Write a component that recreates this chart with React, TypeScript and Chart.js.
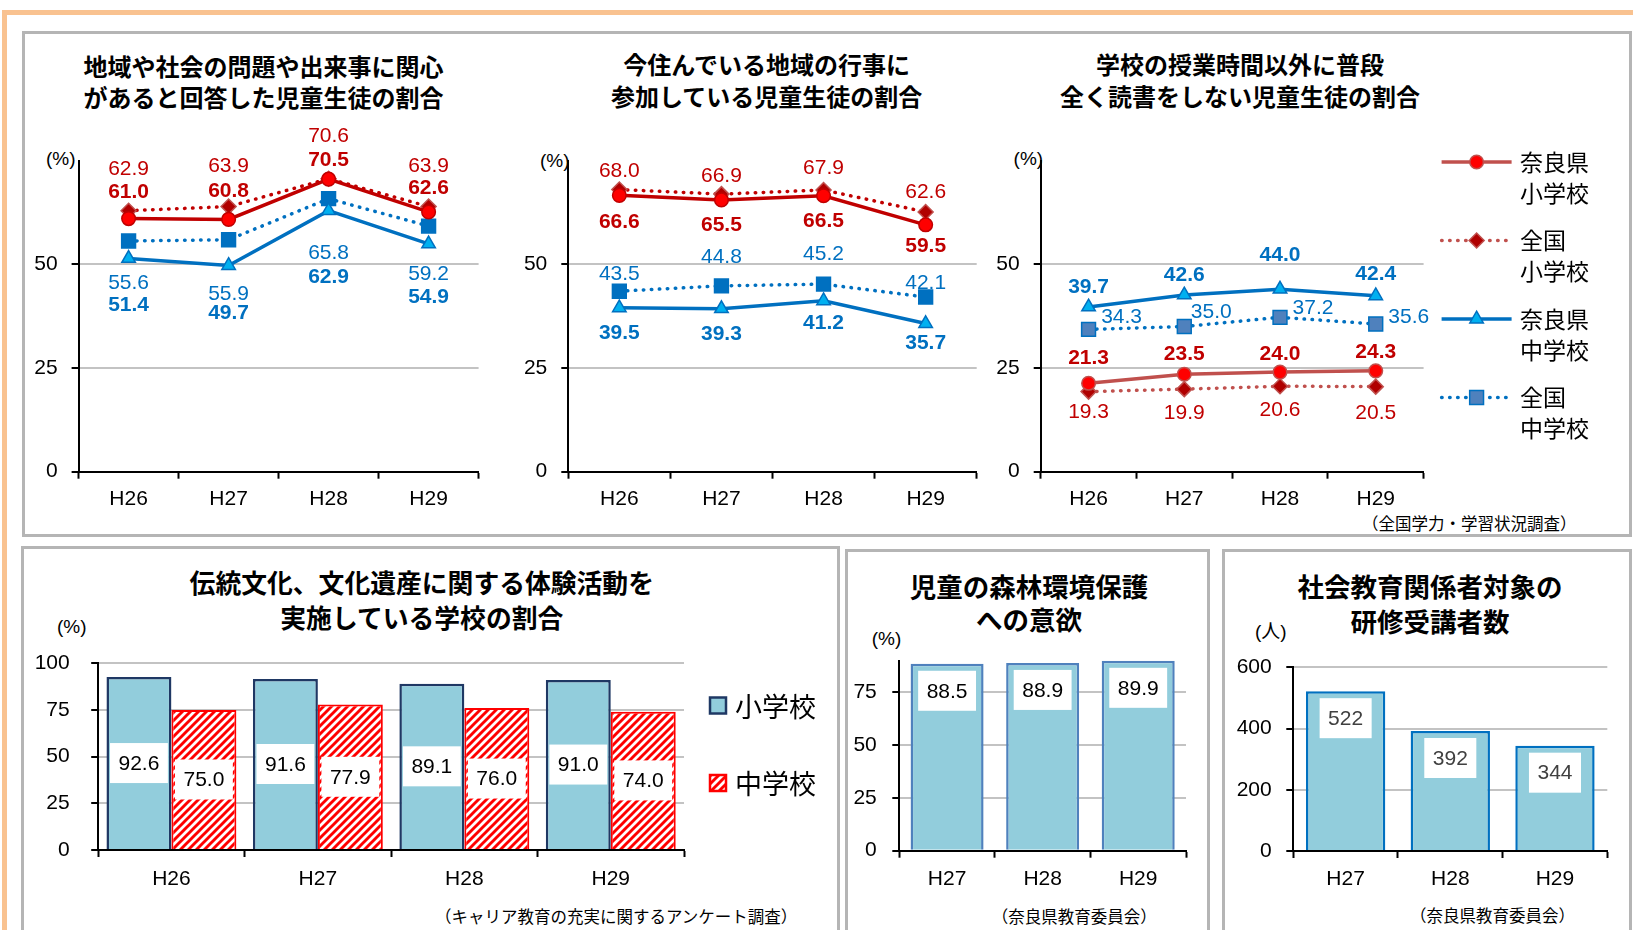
import { useEffect, useRef } from 'react';
import { Chart, registerables } from 'chart.js';

Chart.register(...registerables);

const NUM_FONT = '"Liberation Sans", Arial, sans-serif';
const JP_FONT = '"Noto Sans CJK JP", "Noto Sans", sans-serif';
const NUM_SIZE = 21;

// ---- categories ----
const YEARS4 = ['H26', 'H27', 'H28', 'H29'];
const YEARS3 = ['H27', 'H28', 'H29'];
const SERIES = ['奈良県小学校', '全国小学校', '奈良県中学校', '全国中学校'];
const LEGEND_LINES = [
  ['奈良県', '小学校'],
  ['全国', '小学校'],
  ['奈良県', '中学校'],
  ['全国', '中学校'],
];
const SCHOOL_LEVELS = ['小学校', '中学校'];

// ---- 地域や社会の問題や出来事に関心があると回答した児童生徒の割合 (%) ----
const interestNaraElem = [61.0, 60.8, 70.5, 62.6];
const interestNationElem = [62.9, 63.9, 70.6, 63.9];
const interestNaraJunior = [51.4, 49.7, 62.9, 54.9];
const interestNationJunior = [55.6, 55.9, 65.8, 59.2];

// ---- 今住んでいる地域の行事に参加している児童生徒の割合 (%) ----
const eventNaraElem = [66.6, 65.5, 66.5, 59.5];
const eventNationElem = [68.0, 66.9, 67.9, 62.6];
const eventNaraJunior = [39.5, 39.3, 41.2, 35.7];
const eventNationJunior = [43.5, 44.8, 45.2, 42.1];

// ---- 学校の授業時間以外に普段全く読書をしない児童生徒の割合 (%) ----
const noReadNaraElem = [21.3, 23.5, 24.0, 24.3];
const noReadNationElem = [19.3, 19.9, 20.6, 20.5];
const noReadNaraJunior = [39.7, 42.6, 44.0, 42.4];
const noReadNationJunior = [34.3, 35.0, 37.2, 35.6];

// ---- 伝統文化、文化遺産に関する体験活動を実施している学校の割合 (%) ----
const traditionElem = [92.6, 91.6, 89.1, 91.0];
const traditionJunior = [75.0, 77.9, 76.0, 74.0];

// ---- 児童の森林環境保護への意欲 (%) ----
const forestWill = [88.5, 88.9, 89.9];

// ---- 社会教育関係者対象の研修受講者数 (人) ----
const trainees = [522, 392, 344];

// ---- value-label placement (pixel offsets from each point) ----
const INTEREST_LABEL_OFFSETS = [
  { dy: [-26, -28, -19, -23.5] },
  { dy: [-42, -40, -42.6, -40.7] },
  { dy: [47, 48, 66, 53] },
  { dy: [42, 54, 55, 48] },
];
const EVENT_LABEL_OFFSETS = [
  { dy: [26.7, 25, 25, 21.7] },
  { dy: [-18, -17.7, -21.7, -19.7] },
  { dy: [25, 25.5, 22.7, 20] },
  { dy: [-17, -29, -30, -14.3] },
];
const NOREAD_LABEL_OFFSETS = [
  { dy: [-25, -20, -18, -19] },
  { dy: [21, 23.6, 23.8, 26.7] },
  { dy: [-20, -20, -34, -21.7] },
  { dx: [33, 27, 33, 33], dy: [-12.6, -14.7, -9, -7.2] },
];

// ---- canvas rectangles and plot areas (page pixels) ----
const TOP_CANVAS = [
  { x: 26, y: 110, w: 474, h: 420 },
  { x: 515, y: 110, w: 480, h: 420 },
  { x: 990, y: 110, w: 640, h: 420 },
];
const TOP_PLOT = [
  { l: 78.6, t: 160.5, r: 478.6, b: 471.7 },
  { l: 568.3, t: 160.5, r: 976.7, b: 471.7 },
  { l: 1040.7, t: 160.5, r: 1423.6, b: 471.7 },
];
const BOTTOM_CANVAS = [
  { x: 28, y: 610, w: 800, h: 290 },
  { x: 850, y: 610, w: 356, h: 290 },
  { x: 1228, y: 610, w: 400, h: 290 },
];
const BOTTOM_PLOT = [
  { l: 98.2, t: 663.3, r: 684, b: 850 },
  { l: 899.3, t: 660.6, r: 1186, b: 850.7 },
  { l: 1293.3, t: 667.3, r: 1607.3, b: 851 },
];

const RED = '#C00000';
const BLUE = '#0070C0';
const LIGHT_BLUE = '#92CDDC';

type SeriesStyle = {
  color: string;
  dotted: boolean;
  point: string;
  radius: number;
  fill: string;
  stroke: string;
};

const S_NARA_ELEM: SeriesStyle = { color: RED, dotted: false, point: 'circle', radius: 6.8, fill: '#FF0000', stroke: RED };
const S_NATION_ELEM: SeriesStyle = { color: RED, dotted: true, point: 'rectRot', radius: 7.5, fill: '#B00000', stroke: '#C0504D' };
const S_NARA_JUNIOR: SeriesStyle = { color: BLUE, dotted: false, point: 'triangle', radius: 7.8, fill: '#00B0F0', stroke: BLUE };
const S_NATION_JUNIOR: SeriesStyle = { color: BLUE, dotted: true, point: 'rect', radius: 9.8, fill: BLUE, stroke: BLUE };
const S3_NARA_ELEM: SeriesStyle = { ...S_NARA_ELEM, color: '#C0504D', stroke: '#C0504D' };
const S3_NATION_ELEM: SeriesStyle = { ...S_NATION_ELEM, color: '#C0504D' };
const S3_NATION_JUNIOR: SeriesStyle = { ...S_NATION_JUNIOR, fill: '#4F81BD' };

function frame(c: any, p: any) {
  return {
    padding: { left: 0, top: p.t - c.y, right: c.x + c.w - p.r, bottom: 0 },
    yWidth: p.l - c.x,
    xHeight: c.y + c.h - p.b,
  };
}

function axes(o: {
  max: number;
  step: number;
  hideFrom: number;
  yWidth: number;
  xHeight: number;
  yPad: number;
  xPad: number;
  includeBounds?: boolean;
}) {
  const tickFont = { family: NUM_FONT, size: NUM_SIZE };
  const hidden = (v: number) => v >= o.hideFrom;
  return {
    x: {
      type: 'category',
      offset: true,
      grid: {
        display: true,
        offset: true,
        drawOnChartArea: false,
        drawTicks: true,
        tickLength: 7,
        tickColor: '#000',
        tickWidth: 2,
      },
      border: { display: true, color: '#000', width: 2 },
      ticks: { color: '#000', font: tickFont, padding: o.xPad, maxRotation: 0, autoSkip: false },
      afterFit: (s: any) => {
        s.height = o.xHeight;
      },
    },
    y: {
      min: 0,
      max: o.max,
      grid: {
        color: (ctx: any) =>
          ctx.tick && (ctx.tick.value === 0 || hidden(ctx.tick.value)) ? 'rgba(0,0,0,0)' : '#C3C3C3',
        lineWidth: 2,
        drawTicks: true,
        tickLength: 7,
        tickColor: (ctx: any) => (ctx.tick && hidden(ctx.tick.value) ? 'rgba(0,0,0,0)' : '#000'),
        tickWidth: 2,
      },
      border: { display: true, color: '#000', width: 2 },
      ticks: {
        stepSize: o.step,
        includeBounds: o.includeBounds !== false,
        color: '#000',
        font: tickFont,
        padding: o.yPad,
        callback: (v: any) => (hidden(Number(v)) ? '' : String(v)),
      },
      afterFit: (s: any) => {
        s.width = o.yWidth;
      },
    },
  };
}

function drawMarker(ctx: CanvasRenderingContext2D, style: string, x: number, y: number, r: number) {
  ctx.beginPath();
  if (style === 'circle') {
    ctx.arc(x, y, r, 0, Math.PI * 2);
  } else if (style === 'rectRot') {
    ctx.moveTo(x - r, y);
    ctx.lineTo(x, y - r);
    ctx.lineTo(x + r, y);
    ctx.lineTo(x, y + r);
    ctx.closePath();
  } else if (style === 'triangle') {
    const a = (2 * Math.PI) / 3;
    ctx.moveTo(x, y - r);
    ctx.lineTo(x + Math.sin(a) * r, y - Math.cos(a) * r);
    ctx.lineTo(x - Math.sin(a) * r, y - Math.cos(a) * r);
    ctx.closePath();
  } else {
    const s = r * Math.SQRT1_2;
    ctx.rect(x - s, y - s, 2 * s, 2 * s);
  }
  ctx.fill();
  ctx.stroke();
}

function lineDataset(label: string, data: number[], st: SeriesStyle) {
  return {
    label,
    data,
    borderColor: st.color,
    backgroundColor: st.color,
    borderWidth: 3.5,
    borderDash: st.dotted ? [0.5, 7.5] : [],
    borderCapStyle: st.dotted ? 'round' : 'butt',
    tension: 0,
    fill: false,
    pointStyle: st.point,
    pointRadius: st.radius,
    pointBackgroundColor: st.fill,
    pointBorderColor: st.stroke,
    pointBorderWidth: 1.5,
  };
}

// Value labels next to line points: bold for 奈良県, regular for 全国
function pointLabelPlugin(offsets: { dx?: number[]; dy: number[] }[]) {
  const bold = [true, false, true, false];
  const colors = [RED, RED, BLUE, BLUE];
  return {
    id: 'pointValueLabels',
    afterDatasetsDraw(chart: any) {
      const ctx = chart.ctx as CanvasRenderingContext2D;
      chart.data.datasets.forEach((ds: any, di: number) => {
        const meta = chart.getDatasetMeta(di);
        const off = offsets[di];
        meta.data.forEach((pt: any, i: number) => {
          ctx.save();
          ctx.font = `${bold[di] ? 'bold ' : ''}${NUM_SIZE}px ${NUM_FONT}`;
          ctx.fillStyle = colors[di];
          ctx.textAlign = 'center';
          ctx.textBaseline = 'middle';
          const dx = off.dx ? off.dx[i] : 0;
          ctx.fillText(Number(ds.data[i]).toFixed(1), pt.x + dx, pt.y + off.dy[i]);
          ctx.restore();
        });
      });
    },
  };
}

// Legend for the three line charts, drawn to the right of the third plot
function seriesLegendPlugin(lines: string[][]) {
  return {
    id: 'seriesLegend',
    afterDraw(chart: any) {
      const ctx = chart.ctx as CanvasRenderingContext2D;
      const a = chart.chartArea;
      chart.data.datasets.forEach((ds: any, i: number) => {
        const y = a.top + 1.5 + i * 78.5;
        const x0 = a.right + 18;
        const x1 = a.right + 88;
        ctx.save();
        ctx.strokeStyle = ds.borderColor;
        ctx.lineWidth = ds.borderWidth;
        ctx.lineCap = ds.borderCapStyle;
        ctx.setLineDash(ds.borderDash);
        ctx.beginPath();
        ctx.moveTo(x0, y);
        ctx.lineTo(x1, y);
        ctx.stroke();
        ctx.setLineDash([]);
        ctx.lineCap = 'butt';
        ctx.fillStyle = ds.pointBackgroundColor;
        ctx.strokeStyle = ds.pointBorderColor;
        ctx.lineWidth = ds.pointBorderWidth;
        drawMarker(ctx, ds.pointStyle, (x0 + x1) / 2, y, ds.pointRadius);
        ctx.fillStyle = '#000';
        ctx.font = `23px ${JP_FONT}`;
        ctx.textAlign = 'left';
        ctx.textBaseline = 'middle';
        lines[i].forEach((t, k) => ctx.fillText(t, a.right + 96.4, y + k * 31));
        ctx.restore();
      });
    },
  };
}

// White boxes holding each bar's value
function barLabelPlugin(mode: 'middle' | 'top', color: string, digits: number) {
  return {
    id: 'barValueBoxes',
    afterDatasetsDraw(chart: any) {
      const ctx = chart.ctx as CanvasRenderingContext2D;
      chart.data.datasets.forEach((ds: any, di: number) => {
        const meta = chart.getDatasetMeta(di);
        meta.data.forEach((bar: any, i: number) => {
          const text = Number(ds.data[i]).toFixed(digits);
          ctx.save();
          ctx.font = `${NUM_SIZE}px ${NUM_FONT}`;
          const tw = ctx.measureText(text).width;
          const cy = mode === 'middle' ? (bar.y + bar.base) / 2 : bar.y + 27;
          const bw = tw + 17;
          const bh = 40;
          ctx.fillStyle = '#FFFFFF';
          ctx.fillRect(bar.x - bw / 2, cy - bh / 2, bw, bh);
          ctx.fillStyle = color;
          ctx.textAlign = 'center';
          ctx.textBaseline = 'middle';
          ctx.fillText(text, bar.x, cy + 1);
          ctx.restore();
        });
      });
    },
  };
}

// 小学校 / 中学校 legend beside the grouped bars
function levelLegendPlugin(names: string[]) {
  return {
    id: 'levelLegend',
    afterDraw(chart: any) {
      const ctx = chart.ctx as CanvasRenderingContext2D;
      const a = chart.chartArea;
      chart.data.datasets.forEach((ds: any, i: number) => {
        const cy = a.top + 42.2 + i * 77.5;
        const x = a.right + 26;
        const s = 16;
        ctx.save();
        ctx.fillStyle = ds.backgroundColor;
        ctx.fillRect(x, cy - s / 2, s, s);
        ctx.strokeStyle = ds.borderColor;
        ctx.lineWidth = 2.5;
        ctx.strokeRect(x, cy - s / 2, s, s);
        ctx.fillStyle = '#000';
        ctx.font = `27px ${JP_FONT}`;
        ctx.textAlign = 'left';
        ctx.textBaseline = 'middle';
        ctx.fillText(names[i], a.right + 51, cy + 1);
        ctx.restore();
      });
    },
  };
}

function makeHatch(): any {
  const c = document.createElement('canvas');
  c.width = 8;
  c.height = 8;
  const g = c.getContext('2d')!;
  g.fillStyle = '#FFFFFF';
  g.fillRect(0, 0, 8, 8);
  g.strokeStyle = '#FF0000';
  g.lineWidth = 2.9;
  g.beginPath();
  g.moveTo(-2, 10);
  g.lineTo(10, -2);
  g.moveTo(-6, 6);
  g.lineTo(6, -6);
  g.moveTo(2, 14);
  g.lineTo(14, 2);
  g.stroke();
  return g.createPattern(c, 'repeat');
}

function baseOptions(padding: any, scales: any) {
  return {
    responsive: false,
    animation: false,
    events: [],
    devicePixelRatio: 1,
    layout: { padding },
    plugins: { legend: { display: false }, tooltip: { enabled: false }, title: { display: false } },
    scales,
  };
}

function lineChart(
  canvas: HTMLCanvasElement,
  idx: number,
  series: number[][],
  styles: SeriesStyle[],
  offsets: any[],
  withLegend: boolean,
) {
  const f = frame(TOP_CANVAS[idx], TOP_PLOT[idx]);
  const plugins: any[] = [pointLabelPlugin(offsets)];
  if (withLegend) plugins.push(seriesLegendPlugin(LEGEND_LINES));
  return new Chart(canvas, {
    type: 'line',
    data: {
      labels: YEARS4,
      datasets: series.map((d, i) => lineDataset(SERIES[i], d, styles[i])) as any,
    },
    options: baseOptions(
      f.padding,
      axes({ max: 75, step: 25, hideFrom: 75, yWidth: f.yWidth, xHeight: f.xHeight, yPad: 14, xPad: 8.2 }),
    ) as any,
    plugins,
  });
}

function Text(props: {
  left?: number;
  cx?: number;
  cy: number;
  size: number;
  lines: string[];
  bold?: boolean;
  lh?: number;
  font?: string;
  color?: string;
}) {
  const lh = props.lh ?? Math.round(props.size * 1.3);
  const w = 700;
  const style: any = {
    position: 'absolute',
    top: props.cy - lh / 2,
    fontSize: props.size,
    lineHeight: `${lh}px`,
    fontWeight: props.bold ? 700 : 400,
    fontFamily: props.font ?? JP_FONT,
    whiteSpace: 'nowrap',
    color: props.color ?? '#000',
  };
  if (props.cx !== undefined) {
    style.left = props.cx - w / 2;
    style.width = w;
    style.textAlign = 'center';
  } else {
    style.left = props.left;
  }
  return (
    <div style={style}>
      {props.lines.map((t, i) => (
        <div key={i}>{t}</div>
      ))}
    </div>
  );
}

const panelBorder = '3px solid #B5B5B5';
const UNIT_FONT = `${NUM_FONT.replace(', sans-serif', '')}, ${JP_FONT}`;

export default function App() {
  const c1 = useRef<HTMLCanvasElement>(null);
  const c2 = useRef<HTMLCanvasElement>(null);
  const c3 = useRef<HTMLCanvasElement>(null);
  const b1 = useRef<HTMLCanvasElement>(null);
  const b2 = useRef<HTMLCanvasElement>(null);
  const b3 = useRef<HTMLCanvasElement>(null);

  useEffect(() => {
    const charts: Chart[] = [];

    charts.push(
      lineChart(
        c1.current!,
        0,
        [interestNaraElem, interestNationElem, interestNaraJunior, interestNationJunior],
        [S_NARA_ELEM, S_NATION_ELEM, S_NARA_JUNIOR, S_NATION_JUNIOR],
        INTEREST_LABEL_OFFSETS,
        false,
      ),
    );
    charts.push(
      lineChart(
        c2.current!,
        1,
        [eventNaraElem, eventNationElem, eventNaraJunior, eventNationJunior],
        [S_NARA_ELEM, S_NATION_ELEM, S_NARA_JUNIOR, S_NATION_JUNIOR],
        EVENT_LABEL_OFFSETS,
        false,
      ),
    );
    charts.push(
      lineChart(
        c3.current!,
        2,
        [noReadNaraElem, noReadNationElem, noReadNaraJunior, noReadNationJunior],
        [S3_NARA_ELEM, S3_NATION_ELEM, S_NARA_JUNIOR, S3_NATION_JUNIOR],
        NOREAD_LABEL_OFFSETS,
        true,
      ),
    );

    // 伝統文化・文化遺産の体験活動
    const fb1 = frame(BOTTOM_CANVAS[0], BOTTOM_PLOT[0]);
    charts.push(
      new Chart(b1.current!, {
        type: 'bar',
        data: {
          labels: YEARS4,
          datasets: [
            {
              label: SCHOOL_LEVELS[0],
              data: traditionElem,
              backgroundColor: LIGHT_BLUE,
              borderColor: '#1F3864',
              borderWidth: 2.5,
              categoryPercentage: 0.887,
              barPercentage: 1,
            },
            {
              label: SCHOOL_LEVELS[1],
              data: traditionJunior,
              backgroundColor: makeHatch(),
              borderColor: '#FF0000',
              borderWidth: 2,
              categoryPercentage: 0.887,
              barPercentage: 1,
            },
          ] as any,
        },
        options: baseOptions(
          fb1.padding,
          axes({ max: 100, step: 25, hideFrom: 1000, yWidth: fb1.yWidth, xHeight: fb1.xHeight, yPad: 21.5, xPad: 10 }),
        ) as any,
        plugins: [barLabelPlugin('middle', '#000', 1), levelLegendPlugin(SCHOOL_LEVELS)],
      }),
    );

    // 森林環境保護への意欲
    const fb2 = frame(BOTTOM_CANVAS[1], BOTTOM_PLOT[1]);
    charts.push(
      new Chart(b2.current!, {
        type: 'bar',
        data: {
          labels: YEARS3,
          datasets: [
            {
              label: '児童の森林環境保護への意欲',
              data: forestWill,
              backgroundColor: LIGHT_BLUE,
              borderColor: '#4F81BD',
              borderWidth: 2.5,
              categoryPercentage: 0.764,
              barPercentage: 1,
            },
          ] as any,
        },
        options: baseOptions(
          fb2.padding,
          axes({
            max: 90,
            step: 25,
            hideFrom: 76,
            yWidth: fb2.yWidth,
            xHeight: fb2.xHeight,
            yPad: 15.5,
            xPad: 9.3,
            includeBounds: false,
          }),
        ) as any,
        plugins: [barLabelPlugin('top', '#000', 1)],
      }),
    );

    // 研修受講者数
    const fb3 = frame(BOTTOM_CANVAS[2], BOTTOM_PLOT[2]);
    charts.push(
      new Chart(b3.current!, {
        type: 'bar',
        data: {
          labels: YEARS3,
          datasets: [
            {
              label: '社会教育関係者対象の研修受講者数',
              data: trainees,
              backgroundColor: LIGHT_BLUE,
              borderColor: BLUE,
              borderWidth: 2.5,
              categoryPercentage: 0.758,
              barPercentage: 1,
            },
          ] as any,
        },
        options: baseOptions(
          fb3.padding,
          axes({ max: 600, step: 200, hideFrom: 100000, yWidth: fb3.yWidth, xHeight: fb3.xHeight, yPad: 14.6, xPad: 9 }),
        ) as any,
        plugins: [barLabelPlugin('top', '#404040', 0)],
      }),
    );

    return () => charts.forEach((c) => c.destroy());
  }, []);

  const canvasEl = (ref: any, r: { x: number; y: number; w: number; h: number }) => (
    <canvas
      ref={ref}
      width={r.w}
      height={r.h}
      style={{ position: 'absolute', left: r.x, top: r.y, width: r.w, height: r.h }}
    />
  );

  return (
    <div
      style={{
        position: 'absolute',
        left: 0,
        top: 0,
        width: 1633,
        height: 930,
        overflow: 'hidden',
        background: '#FFFFFF',
        fontFamily: JP_FONT,
      }}
    >
      {/* page frame */}
      <div
        style={{
          position: 'absolute',
          left: 2,
          top: 10,
          width: 1700,
          height: 1000,
          borderTop: '5px solid #F9C290',
          borderLeft: '5px solid #F9C290',
        }}
      />
      {/* panels */}
      <div style={{ position: 'absolute', left: 22, top: 31, width: 1610, height: 506, border: panelBorder, boxSizing: 'border-box' }} />
      <div style={{ position: 'absolute', left: 21, top: 546, width: 819, height: 420, border: panelBorder, boxSizing: 'border-box' }} />
      <div style={{ position: 'absolute', left: 845, top: 549, width: 365, height: 420, border: panelBorder, boxSizing: 'border-box' }} />
      <div style={{ position: 'absolute', left: 1222, top: 549, width: 410, height: 420, border: panelBorder, boxSizing: 'border-box' }} />

      {/* titles */}
      <Text cx={263.5} cy={65.5} size={24} bold lh={31.6} lines={['地域や社会の問題や出来事に関心', 'があると回答した児童生徒の割合']} />
      <Text cx={766.7} cy={64} size={24} bold lh={31.7} lines={['今住んでいる地域の行事に', '参加している児童生徒の割合']} />
      <Text cx={1240} cy={64} size={24} bold lh={31.7} lines={['学校の授業時間以外に普段', '全く読書をしない児童生徒の割合']} />
      <Text cx={421.8} cy={581} size={25.8} bold lh={35} lines={['伝統文化、文化遺産に関する体験活動を', '実施している学校の割合']} />
      <Text cx={1029} cy={585.5} size={26.5} bold lh={33.5} lines={['児童の森林環境保護', 'への意欲']} />
      <Text cx={1430} cy={585.5} size={26.5} bold lh={35} lines={['社会教育関係者対象の', '研修受講者数']} />

      {/* units */}
      <Text left={46} cy={158} size={19} font={UNIT_FONT} lines={['(%)']} />
      <Text left={540} cy={160} size={19} font={UNIT_FONT} lines={['(%)']} />
      <Text left={1013.6} cy={158} size={19} font={UNIT_FONT} lines={['(%)']} />
      <Text left={57} cy={626.7} size={19} font={UNIT_FONT} lines={['(%)']} />
      <Text left={871.7} cy={638.3} size={19} font={UNIT_FONT} lines={['(%)']} />
      <Text left={1255} cy={631.7} size={19} font={UNIT_FONT} lines={['(人)']} />

      {/* sources */}
      <Text left={1362} cy={523.3} size={16.5} lines={['（全国学力・学習状況調査）']} />
      <Text left={435} cy={916.7} size={16.5} lines={['（キャリア教育の充実に関するアンケート調査）']} />
      <Text left={991.7} cy={916.7} size={16.5} lines={['（奈良県教育委員会）']} />
      <Text left={1410} cy={915} size={16.5} lines={['（奈良県教育委員会）']} />

      {canvasEl(c1, TOP_CANVAS[0])}
      {canvasEl(c2, TOP_CANVAS[1])}
      {canvasEl(c3, TOP_CANVAS[2])}
      {canvasEl(b1, BOTTOM_CANVAS[0])}
      {canvasEl(b2, BOTTOM_CANVAS[1])}
      {canvasEl(b3, BOTTOM_CANVAS[2])}
    </div>
  );
}
